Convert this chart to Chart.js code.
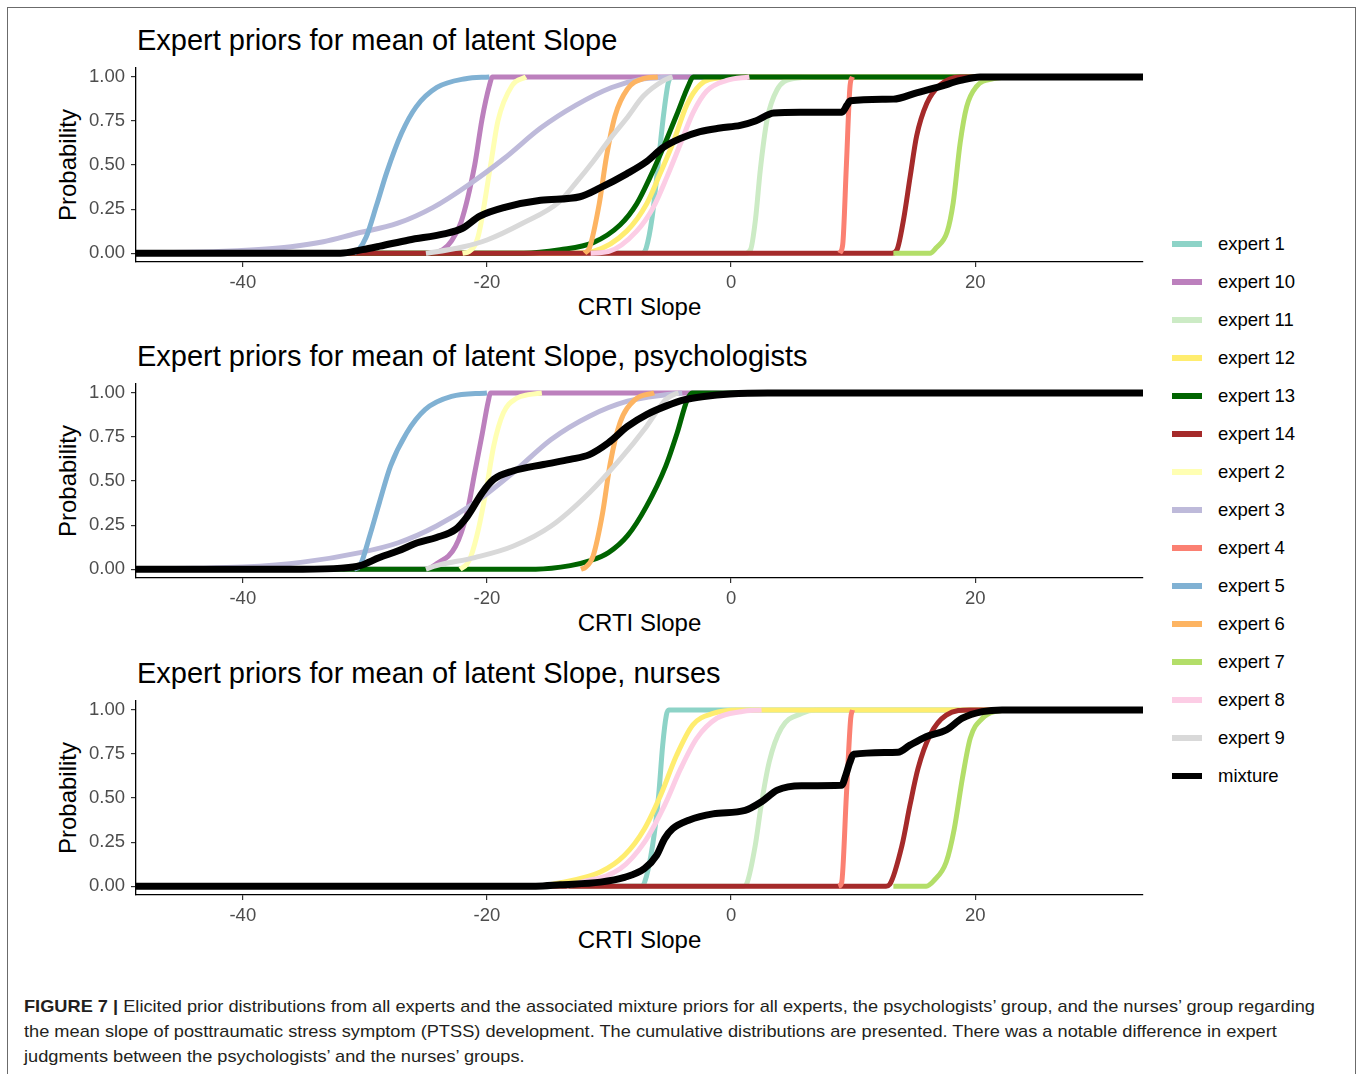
<!DOCTYPE html>
<html>
<head>
<meta charset="utf-8">
<title>Expert priors for mean of latent Slope</title>
<script src="https://cdn.jsdelivr.net/npm/chart.js@4.4.1/dist/chart.umd.min.js"></script>
<style>
  html, body { margin: 0; padding: 0; background: #fff; overflow: hidden; }
  #fig { position: relative; width: 1358px; height: 1074px; font-family: 'Liberation Sans', Arial, sans-serif; }
  .frame { position: absolute; left: 7px; top: 7px; width: 1349px; height: 1100px; border: 1.5px solid #6b6b6b; box-sizing: border-box; }
  .ptitle { position: absolute; left: 137px; font-size: 29px; line-height: 29px; color: #000; white-space: nowrap; }
  .ytitle { position: absolute; width: 200px; text-align: center; font-size: 24px; line-height: 24px; color: #000; transform: rotate(-90deg); }
  .xtitle { position: absolute; left: 136px; width: 1007px; text-align: center; font-size: 24px; line-height: 24px; color: #000; }
  canvas { position: absolute; left: 0; }
  .sw { position: absolute; left: 1172px; width: 30px; height: 6px; }
  .lt { position: absolute; left: 1218px; font-size: 18.5px; line-height: 19px; color: #000; white-space: nowrap; }
  .cap { position: absolute; left: 24px; font-size: 17px; line-height: 25px; color: #231f20; white-space: nowrap; transform-origin: 0 50%; }
</style>
</head>
<body>
<div id="fig">
  <div class="frame"></div>
</div>
<script>
// Axis ranges and ticks
const xMin = -48.75, xMax = 33.75;
const xTicks = [-40, -20, 0, 20];
const yTicks = [0, 0.25, 0.5, 0.75, 1];

// Legend / series order (also the drawing order, last on top)
const seriesNames = ['expert 1', 'expert 10', 'expert 11', 'expert 12', 'expert 13', 'expert 14', 'expert 2',
  'expert 3', 'expert 4', 'expert 5', 'expert 6', 'expert 7', 'expert 8', 'expert 9', 'mixture'];
const seriesColors = ['#8DD3C7', '#BC80BD', '#CCEBC5', '#FFED6F', '#006400', '#A52A2A', '#FFFFB3',
  '#BEBADA', '#FB8072', '#80B1D3', '#FDB462', '#B3DE69', '#FCCDE5', '#D9D9D9', '#000000'];

const panelTitles = ['Expert priors for mean of latent Slope',
  'Expert priors for mean of latent Slope, psychologists',
  'Expert priors for mean of latent Slope, nurses'];

// Panel 1: all experts, [slope, probability]
const allE1 = [[-48.75,0],[-7.3,0],[-6.95,0.03],[-6.47,0.2],[-5.98,0.5],[-5.5,0.8],[-5.13,0.97],[-4.8,1],[33.75,1]];
const allE10 = [[-48.75,0],[-24.5,0],[-23.6,0.02],[-22.9,0.07],[-22.1,0.18],[-21.0,0.5],[-20.4,0.76],[-19.8,0.95],[-19.55,1],[33.75,1]];
const allE11 = [[-48.75,0],[1.2,0],[1.6,0.02],[2.0,0.19],[2.4,0.475],[2.95,0.757],[3.77,0.927],[5.1,0.99],[6.8,1],[33.75,1]];
const allE12 = [[-48.75,0],[-13,0],[-11.3,0.01],[-8.55,0.125],[-6.91,0.28],[-5.82,0.45],[-4.73,0.63],[-3.63,0.84],[-2.54,0.955],[-0.9,0.995],[1,1],[33.75,1]];
const allE13 = [[-48.75,0],[-17,0],[-14,0.02],[-11.3,0.06],[-9.1,0.16],[-7.73,0.28],[-6.64,0.43],[-5.55,0.6],[-4.45,0.785],[-3.5,0.95],[-3.1,1],[33.75,1]];
const allE14 = [[-48.75,0],[13.2,0],[13.6,0.02],[14.13,0.19],[14.68,0.437],[15.2,0.663],[16.04,0.85],[17.13,0.955],[18.8,1],[33.75,1]];
const allE2 = [[-22,0],[-21.45,0.01],[-20.7,0.1],[-19.7,0.5],[-19.1,0.75],[-17.95,0.95],[-16.8,1]];
const allE3 = [[-48.75,0.002],[-42,0.01],[-39,0.02],[-36.06,0.037],[-33.4,0.065],[-30.8,0.11],[-27.3,0.17],[-24.4,0.26],[-21.46,0.39],[-18.54,0.54],[-15.6,0.71],[-12.7,0.84],[-9.78,0.94],[-7.45,0.985],[-4.8,1]];
const allE4 = [[8.9,0],[9.15,0.05],[9.45,0.5],[9.75,0.95],[9.95,1]];
const allE5 = [[-30.9,0],[-30.5,0.02],[-29.9,0.09],[-29.05,0.27],[-28.2,0.46],[-27.0,0.68],[-25.8,0.83],[-24.1,0.94],[-21.75,0.99],[-19.8,1]];
const allE6 = [[-12.0,0],[-11.6,0.03],[-10.8,0.28],[-10.2,0.55],[-9.5,0.78],[-8.5,0.93],[-7.2,0.99],[-6,1]];
const allE7 = [[13.3,0],[16.3,0],[16.8,0.03],[17.7,0.12],[18.2,0.286],[18.77,0.625],[19.3,0.83],[20.1,0.945],[21.5,0.99],[23,1],[33.75,1]];
const allE8 = [[-11.5,0],[-10,0.01],[-7.73,0.125],[-6.37,0.26],[-5.27,0.43],[-4.18,0.615],[-3.09,0.8],[-1.99,0.92],[-0.35,0.98],[1.5,1]];
const allE9 = [[-25,0],[-24.4,0.005],[-22,0.035],[-20,0.075],[-17.08,0.17],[-14.1,0.29],[-12.7,0.4],[-11.3,0.52],[-9.9,0.65],[-8.5,0.77],[-7.2,0.89],[-5.5,0.98],[-4.8,1]];
const allMix = [[-48.75,0],[-32,0],[-30.2,0.02],[-28.76,0.04],[-26.4,0.075],[-23.5,0.11],[-22.04,0.14],[-20.58,0.21],[-18.54,0.26],[-15.6,0.3],[-12.38,0.32],[-10.74,0.37],[-8.55,0.45],[-6.91,0.52],[-5.55,0.6],[-4.18,0.65],[-2.54,0.69],[-0.9,0.71],[0.76,0.725],[2.0,0.75],[3.49,0.795],[5.68,0.8],[9.09,0.8],[9.5,0.84],[9.77,0.865],[13.3,0.874],[15.2,0.91],[17.1,0.945],[18.8,0.98],[20.4,1],[33.75,1]];

// Panel 2: psychologists
const psyE10 = [[-48.75,0],[-25,0],[-24.13,0.03],[-22.57,0.13],[-21.63,0.32],[-21.0,0.547],[-20.38,0.77],[-19.9,0.95],[-19.7,1],[33.75,1]];
const psyE13 = [[-48.75,0],[-16,0],[-13.17,0.02],[-11.6,0.047],[-10.04,0.094],[-8.48,0.19],[-6.92,0.358],[-5.35,0.585],[-4.41,0.774],[-3.6,0.96],[-3.2,1],[33.75,1]];
const psyE2 = [[-22.2,0],[-21.63,0.03],[-21.3,0.075],[-20.7,0.226],[-20.06,0.45],[-19.44,0.7],[-18.65,0.887],[-17.56,0.97],[-16.6,0.99],[-15.5,1]];
const psyE3 = [[-48.75,0.002],[-44,0.005],[-40,0.012],[-35.1,0.04],[-30.4,0.094],[-27.26,0.15],[-24.13,0.245],[-21.0,0.377],[-17.87,0.547],[-14.74,0.736],[-11.6,0.868],[-8.48,0.953],[-5.35,0.99],[-4,1]];
const psyE5 = [[-30.9,0],[-30.4,0.02],[-29.6,0.19],[-28.8,0.38],[-27.9,0.585],[-26.6,0.77],[-25.07,0.905],[-22.9,0.98],[-20,1]];
const psyE6 = [[-12.3,0],[-11.93,0.01],[-11.3,0.075],[-10.52,0.32],[-9.9,0.6],[-9.1,0.83],[-7.86,0.962],[-6.3,1]];
const psyE9 = [[-25,0],[-24.13,0.02],[-21.0,0.066],[-17.87,0.13],[-14.74,0.245],[-11.6,0.434],[-9.1,0.623],[-6.92,0.81],[-5.35,0.962],[-4.7,0.99],[-4.3,1]];
const psyMix = [[-48.75,0],[-35.1,0],[-31.95,0.006],[-30.4,0.02],[-28.8,0.066],[-27.26,0.104],[-25.7,0.15],[-24.13,0.18],[-22.57,0.226],[-21.6,0.3],[-20.38,0.434],[-19.44,0.51],[-17.87,0.557],[-15.37,0.594],[-13.18,0.623],[-11.6,0.65],[-10.04,0.717],[-8.48,0.81],[-6.92,0.877],[-5.35,0.925],[-3.78,0.962],[-2.22,0.98],[-0.1,0.994],[3,1],[33.75,1]];

// Panel 3: nurses
const nurE1 = [[-48.75,0],[-7.4,0],[-7.09,0.02],[-6.43,0.23],[-5.93,0.516],[-5.6,0.8],[-5.3,0.97],[-5.1,1],[33.75,1]];
const nurE11 = [[-48.75,0],[1.0,0],[1.32,0.02],[1.98,0.23],[2.47,0.46],[3.13,0.706],[4.12,0.896],[5.77,0.98],[7,1],[33.75,1]];
const nurE12 = [[-48.75,0],[-16,0],[-14,0.02],[-10.71,0.08],[-8.73,0.175],[-7.09,0.326],[-5.77,0.516],[-4.45,0.744],[-3.13,0.915],[-1.48,0.98],[0.5,1],[33.75,1]];
const nurE14 = [[-48.75,0],[12.7,0],[13.0,0.01],[14.0,0.23],[14.66,0.46],[15.32,0.668],[16.31,0.858],[17.63,0.97],[19.6,1],[33.75,1]];
const nurE4 = [[8.8,0],[9.06,0.02],[9.45,0.516],[9.8,0.95],[9.95,1]];
const nurE7 = [[13.3,0],[16.0,0],[16.6,0.03],[17.63,0.137],[18.29,0.326],[18.95,0.61],[19.6,0.84],[20.6,0.953],[21.58,0.99],[23,1],[33.75,1]];
const nurE8 = [[-13.5,0],[-12.36,0.02],[-9.06,0.1],[-7.09,0.25],[-5.44,0.46],[-4.12,0.668],[-2.8,0.84],[-1.15,0.953],[0.82,0.99],[2.5,1]];
const nurMix = [[-48.75,0],[-16,0],[-14,0.008],[-10.7,0.023],[-8.73,0.05],[-7.09,0.1],[-6.1,0.175],[-5.44,0.27],[-4.78,0.326],[-3.46,0.374],[-1.48,0.41],[1.15,0.43],[2.47,0.478],[3.79,0.545],[5.77,0.57],[9.06,0.573],[9.4,0.63],[9.72,0.7],[10.05,0.748],[13.67,0.76],[14.66,0.8],[15.98,0.848],[17.63,0.886],[18.95,0.953],[20.6,0.99],[22.2,1],[33.75,1]];

const panelSeries = [
  { 'expert 1': allE1, 'expert 10': allE10, 'expert 11': allE11, 'expert 12': allE12, 'expert 13': allE13,
    'expert 14': allE14, 'expert 2': allE2, 'expert 3': allE3, 'expert 4': allE4, 'expert 5': allE5,
    'expert 6': allE6, 'expert 7': allE7, 'expert 8': allE8, 'expert 9': allE9, 'mixture': allMix },
  { 'expert 10': psyE10, 'expert 13': psyE13, 'expert 2': psyE2, 'expert 3': psyE3, 'expert 5': psyE5,
    'expert 6': psyE6, 'expert 9': psyE9, 'mixture': psyMix },
  { 'expert 1': nurE1, 'expert 11': nurE11, 'expert 12': nurE12, 'expert 14': nurE14, 'expert 4': nurE4,
    'expert 7': nurE7, 'expert 8': nurE8, 'mixture': nurMix }
];

const fig = document.getElementById('fig');
const FONT = "'Liberation Sans', Arial, sans-serif";
const panelOffsets = [0, 316, 633];

function addDiv(cls, text, css) {
  const d = document.createElement('div');
  d.className = cls;
  d.textContent = text;
  Object.assign(d.style, css);
  fig.appendChild(d);
  return d;
}

// Panels
panelTitles.forEach((title, i) => {
  const off = panelOffsets[i];
  addDiv('ptitle', title, { top: (26 + off) + 'px' });
  addDiv('ytitle', 'Probability', { left: (68 - 100) + 'px', top: (165 - 12 + off) + 'px' });
  addDiv('xtitle', 'CRTI Slope', { top: (295 + off) + 'px' });

  // chart area ends up 17px below the canvas top (y tick label room)
  const canvas = document.createElement('canvas');
  canvas.width = 1150;
  canvas.height = 243;
  canvas.style.top = (51 + off) + 'px';
  fig.appendChild(canvas);

  const datasets = [];
  seriesNames.forEach((name, k) => {
    const pts = panelSeries[i][name];
    if (!pts) return;
    datasets.push({
      label: name,
      data: pts.map(p => ({ x: p[0], y: p[1] })),
      borderColor: seriesColors[k],
      borderWidth: name === 'mixture' ? 7 : 5,
      order: seriesNames.length - k
    });
  });

  new Chart(canvas, {
    type: 'line',
    data: { datasets },
    options: {
      responsive: false,
      animation: false,
      events: [],
      devicePixelRatio: 1,
      layout: { autoPadding: false, padding: { top: 0, right: 7, left: 0, bottom: 0 } },
      plugins: { legend: { display: false }, tooltip: { enabled: false } },
      elements: {
        point: { radius: 0 },
        line: { cubicInterpolationMode: 'monotone', borderCapStyle: 'butt', borderJoinStyle: 'round' }
      },
      scales: {
        x: {
          type: 'linear', min: xMin, max: xMax,
          afterBuildTicks: s => { s.ticks = xTicks.map(v => ({ value: v })); },
          afterFit: s => { s.height = 32; },
          ticks: { color: '#4d4d4d', font: { family: FONT, size: 18.5 }, padding: 5, maxRotation: 0, autoSkip: false,
            callback: v => String(v) },
          grid: { display: true, drawOnChartArea: false, drawTicks: true, tickLength: 5, color: '#333', lineWidth: 1.2 },
          border: { display: true, color: '#000', width: 1.3 }
        },
        y: {
          type: 'linear', min: -0.05, max: 1.05,
          afterBuildTicks: s => { s.ticks = yTicks.map(v => ({ value: v })); },
          afterFit: s => { s.width = 136; },
          ticks: { color: '#4d4d4d', font: { family: FONT, size: 18.5 }, padding: 6, autoSkip: false,
            callback: v => v.toFixed(2) },
          grid: { display: true, drawOnChartArea: false, drawTicks: true, tickLength: 5, color: '#333', lineWidth: 1.2 },
          border: { display: true, color: '#000', width: 1.3 }
        }
      }
    }
  });
});

// Shared legend
seriesNames.forEach((name, k) => {
  const cy = 244 + 38 * k;
  addDiv('sw', '', { top: (cy - 3) + 'px', background: seriesColors[k] });
  addDiv('lt', name, { top: (cy - 10) + 'px' });
});

// Caption
const capLines = [
  ['FIGURE 7 |', ' Elicited prior distributions from all experts and the associated mixture priors for all experts, the psychologists’ group, and the nurses’ group regarding'],
  ['', 'the mean slope of posttraumatic stress symptom (PTSS) development. The cumulative distributions are presented. There was a notable difference in expert'],
  ['', 'judgments between the psychologists’ and the nurses’ groups.']
];
const capEls = capLines.map((ln, j) => {
  const d = addDiv('cap', '', { top: (994 + 25 * j) + 'px' });
  if (ln[0]) {
    const b = document.createElement('b');
    b.textContent = ln[0];
    d.appendChild(b);
  }
  d.appendChild(document.createTextNode(ln[1]));
  return d;
});
// squeeze caption to the width of the original first line
const capScale = 1291 / capEls[0].getBoundingClientRect().width;
capEls.forEach(d => { d.style.transform = 'scaleX(' + capScale + ')'; });
</script>
</body>
</html>
